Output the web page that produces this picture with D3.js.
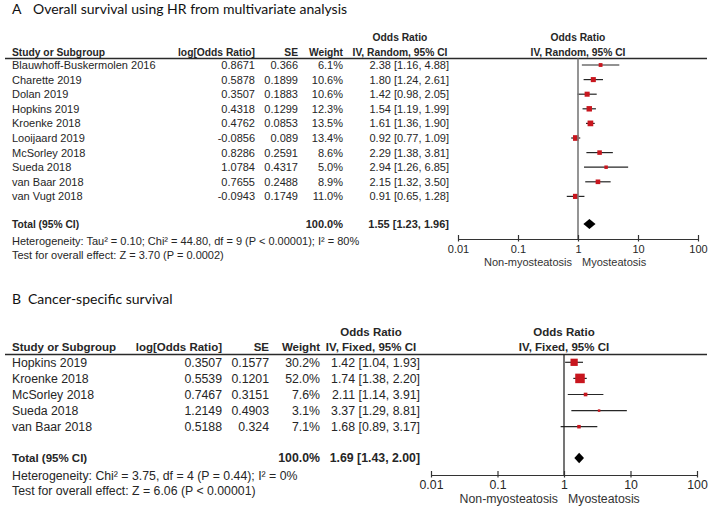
<!DOCTYPE html>
<meta charset="utf-8">
<style>
    body {
        margin: 0;
        background: #fff;
    }

    text {
        font-family: "Liberation Sans", Arial, sans-serif;
        fill: #262626;
    }

    .title {
        font-family: Lato, "Open Sans", sans-serif;
        fill: #111;
    }

    .bold {
        font-weight: bold;
    }
</style>

<body>
    <script src="https://cdn.jsdelivr.net/npm/d3@7"></script>
    <script>

        // ---- panel A: overall survival (random effects)
        var studiesA = ["Blauwhoff-Buskermolen 2016", "Charette 2019", "Dolan 2019", "Hopkins 2019", "Kroenke 2018",
            "Looijaard 2019", "McSorley 2018", "Sueda 2018", "van Baar 2018", "van Vugt 2018"];
        var logOrA = [0.8671, 0.5878, 0.3507, 0.4318, 0.4762, -0.0856, 0.8286, 1.0784, 0.7655, -0.0943];
        var seA = [0.366, 0.1899, 0.1883, 0.1299, 0.0853, 0.089, 0.2591, 0.4317, 0.2488, 0.1749];
        var weightA = [6.1, 10.6, 10.6, 12.3, 13.5, 13.4, 8.6, 5.0, 8.9, 11.0];
        var orA = [2.38, 1.80, 1.42, 1.54, 1.61, 0.92, 2.29, 2.94, 2.15, 0.91];
        var lowA = [1.16, 1.24, 0.98, 1.19, 1.36, 0.77, 1.38, 1.26, 1.32, 0.65];
        var highA = [4.88, 2.61, 2.05, 1.99, 1.90, 1.09, 3.81, 6.85, 3.50, 1.28];
        var totalA = [1.55, 1.23, 1.96];
        var hetA = "Heterogeneity: Tau\u00b2 = 0.10; Chi\u00b2 = 44.80, df = 9 (P < 0.00001); I\u00b2 = 80%";
        var testA = "Test for overall effect: Z = 3.70 (P = 0.0002)";

        // ---- panel B: cancer-specific survival (fixed effects)
        var studiesB = ["Hopkins 2019", "Kroenke 2018", "McSorley 2018", "Sueda 2018", "van Baar 2018"];
        var logOrB = [0.3507, 0.5539, 0.7467, 1.2149, 0.5188];
        var seB = [0.1577, 0.1201, 0.3151, 0.4903, 0.324];
        var weightB = [30.2, 52.0, 7.6, 3.1, 7.1];
        var orB = [1.42, 1.74, 2.11, 3.37, 1.68];
        var lowB = [1.04, 1.38, 1.14, 1.29, 0.89];
        var highB = [1.93, 2.20, 3.91, 8.81, 3.17];
        var totalB = [1.69, 1.43, 2.00];
        var hetB = "Heterogeneity: Chi\u00b2 = 3.75, df = 4 (P = 0.44); I\u00b2 = 0%";
        var testB = "Test for overall effect: Z = 6.06 (P < 0.00001)";

        var tickValues = [0.01, 0.1, 1, 10, 100];
        var tickLabels = ["0.01", "0.1", "1", "10", "100"];

        var svg = d3.select("body").append("svg")
            .attr("width", 709)
            .attr("height", 506);

        function drawPanel(p) {
            var g = svg.append("g");
            var n = p.studies.length;
            var fs = p.fs;
            var bfs = fs * 0.935; // bold words run narrower in the original
            var base = fs * 0.36; // baseline offset from row centre

            var x = d3.scaleLog().domain([0.01, 100]).range(p.xRange);
            var y = d3.scaleLinear().domain([0, 1]).range([p.row0, p.row0 + p.rowStep]);
            var side = d3.scaleSqrt().domain([0, 100]).range([0, p.sqK * 10]);

            // title
            g.append("text").attr("class", "title")
                .attr("x", 12).attr("y", p.titleY)
                .style("font-size", p.titleFs + "px")
                .text(p.letter);
            g.append("text").attr("class", "title")
                .attr("x", p.titleX).attr("y", p.titleY)
                .style("font-size", p.titleFs + "px")
                .text(p.title);

            // header
            var hy = p.headY;
            function head(txt, xx, anchor, yy) {
                g.append("text").attr("class", "bold")
                    .attr("x", xx).attr("y", yy || hy)
                    .attr("text-anchor", anchor)
                    .style("font-size", bfs + "px")
                    .text(txt);
            }
            head("Study or Subgroup", 12, "start");
            head("log[Odds Ratio]", p.cLog, "end");
            head("SE", p.cSe, "end");
            head("Weight", p.cWt, "end");
            head("Odds Ratio", p.cCiHead, "middle", p.head1Y);
            head(p.method, p.cCiHead, "middle");
            head("Odds Ratio", x(1), "middle", p.head1Y);
            head(p.method, x(1), "middle");

            g.append("line")
                .attr("x1", 5).attr("x2", 707)
                .attr("y1", p.lineY).attr("y2", p.lineY)
                .attr("stroke", "#2a2a2a").attr("stroke-width", 1.3);

            // study rows
            var rows = g.selectAll(null)
                .data(d3.range(n))
                .enter()
                .append("g")
                .attr("transform", function (i) { return "translate(0," + y(i) + ")"; });

            function cell(sel, fn, xx, anchor) {
                sel.append("text")
                    .attr("x", xx).attr("y", base)
                    .attr("text-anchor", anchor)
                    .style("font-size", fs + "px")
                    .text(fn);
            }
            cell(rows, function (i) { return p.studies[i]; }, 12, "start");
            cell(rows, function (i) { return String(p.logOr[i]); }, p.cLog, "end");
            cell(rows, function (i) { return String(p.se[i]); }, p.cSe, "end");
            cell(rows, function (i) { return p.weight[i].toFixed(1) + "%"; }, p.cWt, "end");
            cell(rows, function (i) {
                return p.or[i].toFixed(2) + " [" + p.low[i].toFixed(2) + ", " + p.high[i].toFixed(2) + "]";
            }, p.cCi, "end");

            // null line
            g.append("line")
                .attr("x1", x(1)).attr("x2", x(1))
                .attr("y1", p.lineY).attr("y2", p.axisY)
                .attr("stroke", p.vColor).attr("stroke-width", p.vWidth);

            // CI whiskers and squares
            rows.append("line")
                .attr("x1", function (i) { return x(p.low[i]); })
                .attr("x2", function (i) { return x(p.high[i]); })
                .attr("y1", 0).attr("y2", 0)
                .attr("stroke", "#262626").attr("stroke-width", 1.2);
            rows.append("rect")
                .attr("x", function (i) { return x(p.or[i]) - Math.max(side(p.weight[i]), 2.5) / 2; })
                .attr("y", function (i) { return -Math.max(side(p.weight[i]), 2.5) / 2; })
                .attr("width", function (i) { return Math.max(side(p.weight[i]), 2.5); })
                .attr("height", function (i) { return Math.max(side(p.weight[i]), 2.5); })
                .attr("fill", "#c8161e");

            // total row
            var ty = p.totalY;
            g.append("text").attr("class", "bold")
                .attr("x", 12).attr("y", ty + base)
                .style("font-size", bfs + "px").text("Total (95% CI)");
            g.append("text").attr("class", "bold")
                .attr("x", p.cWt).attr("y", ty + base).attr("text-anchor", "end")
                .style("font-size", fs + "px").text("100.0%");
            g.append("text").attr("class", "bold")
                .attr("x", p.cCi).attr("y", ty + base).attr("text-anchor", "end")
                .style("font-size", fs + "px")
                .text(p.total[0].toFixed(2) + " [" + p.total[1].toFixed(2) + ", " + p.total[2].toFixed(2) + "]");
            var dh = p.diamondH;
            g.append("path")
                .attr("d", "M" + x(p.total[1]) + "," + ty +
                    "L" + x(p.total[0]) + "," + (ty - dh) +
                    "L" + x(p.total[2]) + "," + ty +
                    "L" + x(p.total[0]) + "," + (ty + dh) + "Z")
                .attr("fill", "#000");

            g.append("text").attr("x", 12).attr("y", p.hetY + base)
                .style("font-size", fs + "px").text(p.het);
            g.append("text").attr("x", 12).attr("y", p.testY + base)
                .style("font-size", fs + "px").text(p.test);

            // axis
            var ax = g.append("g")
                .attr("transform", "translate(0," + p.axisY + ")")
                .call(d3.axisBottom(x)
                    .tickValues(tickValues)
                    .tickFormat(function (d, i) { return tickLabels[i]; })
                    .tickSizeInner(-4)
                    .tickSizeOuter(0)
                    .tickPadding(p.tickPad));
            ax.select(".domain").attr("stroke", "#333").attr("stroke-width", 1.2);
            ax.selectAll(".tick line").attr("y1", 2.5).attr("y2", -4)
                .attr("stroke", "#333").attr("stroke-width", 1.2);
            ax.selectAll(".tick text")
                .style("font-family", "'Liberation Sans', Arial, sans-serif")
                .style("font-size", fs + "px")
                .attr("fill", "#333");

            g.append("text")
                .attr("x", x(1) - 6).attr("y", p.favY)
                .attr("text-anchor", "end")
                .style("font-size", fs + "px").style("fill", "#333")
                .text("Non-myosteatosis");
            g.append("text")
                .attr("x", x(1) + 4).attr("y", p.favY)
                .style("font-size", fs + "px").style("fill", "#333")
                .text("Myosteatosis");
        }

        drawPanel({
            letter: "A", title: "Overall survival using HR from multivariate analysis",
            titleX: 33, titleY: 13.5, titleFs: 14,
            studies: studiesA, logOr: logOrA, se: seA, weight: weightA,
            or: orA, low: lowA, high: highA, total: totalA, het: hetA, test: testA,
            method: "IV, Random, 95% CI",
            fs: 11, head1Y: 41, headY: 55.5, lineY: 58.5,
            row0: 65, rowStep: 14.6, totalY: 224, hetY: 241, testY: 255,
            cLog: 255, cSe: 298, cWt: 343, cCi: 449, cCiHead: 400,
            xRange: [458, 698], axisY: 239, tickPad: 6, favY: 265.5,
            vColor: "#7a7a7a", vWidth: 1.6, sqK: 1.55, diamondH: 5
        });

        drawPanel({
            letter: "B", title: "Cancer-specific survival",
            titleX: 28, titleY: 304, titleFs: 14,
            studies: studiesB, logOr: logOrB, se: seB, weight: weightB,
            or: orB, low: lowB, high: highB, total: totalB, het: hetB, test: testB,
            method: "IV, Fixed, 95% CI",
            fs: 12.3, head1Y: 335.5, headY: 350.5, lineY: 354.5,
            row0: 362.3, rowStep: 16.1, totalY: 458, hetY: 475.5, testY: 491,
            cLog: 222, cSe: 269, cWt: 320, cCi: 420, cCiHead: 371,
            xRange: [431, 697], axisY: 475, tickPad: 5.5, favY: 502.5,
            vColor: "#1a1a1a", vWidth: 1.2, sqK: 1.32, diamondH: 5.3
        });

    </script>
</body>
